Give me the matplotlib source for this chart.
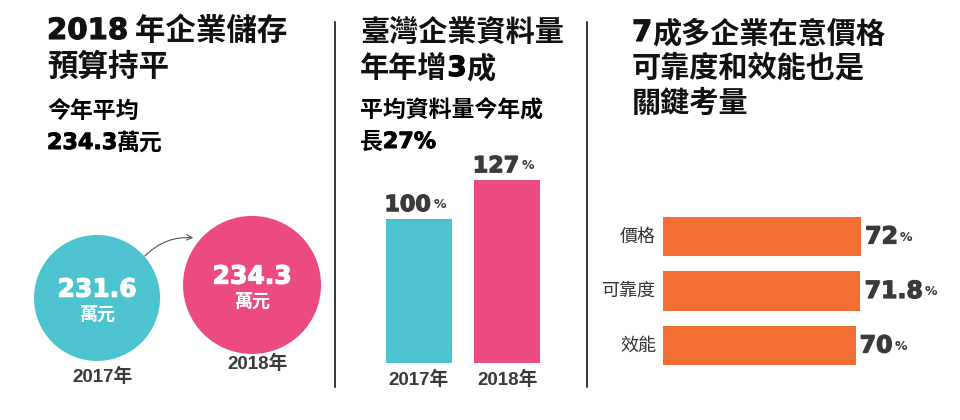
import matplotlib
matplotlib.use("Agg")
import matplotlib.pyplot as plt
from matplotlib import patheffects as pe

plt.rcParams["font.family"] = ["Noto Sans CJK TC", "DejaVu Sans"]

# --- data -------------------------------------------------------------
years = ["2017年", "2018年"]
budget = [231.6, 234.3]                 # 萬元
budget_labels = ["231.6", "234.3"]
data_growth = [100, 127]                # %
growth_labels = ["100", "127"]
factors = ["價格", "可靠度", "效能"]
factor_pct = [72, 71.8, 70]
factor_labels = ["72", "71.8", "70"]

TEAL = "#4DC3CF"
PINK = "#EC4B7F"
ORANGE = "#F26F33"
DARK = "#3A3A3A"
NUM_FONT = ["DejaVu Sans", "Noto Sans CJK TC"]
YEAR_FONT = ["Liberation Sans", "Noto Sans CJK TC"]

W, H = 960, 420
fig = plt.figure(figsize=(W / 100, H / 100), dpi=100)


def fx(x):
    return x / W


def fy(y):
    return 1 - y / H


def heavy(color, lw=0.9):
    # fake a "black" weight by stroking the bold glyphs
    return [pe.withStroke(linewidth=lw, foreground=color)]


def axes_px(left, top, right, bottom):
    ax = fig.add_axes([fx(left), fy(bottom), (right - left) / W, (bottom - top) / H])
    ax.set_axis_off()
    return ax


def after(t, s, gap=1, **kw):
    # put text s right after text artist t, vertically centred on it
    kw.setdefault("va", "center")
    return fig.axes[0].annotate(s, xy=(1, 0.5), xycoords=t, xytext=(gap, 0),
                                textcoords="offset points", ha="left",
                                annotation_clip=False, **kw)


def add_pct(ax, t, size=9):
    # small "%" glued to the right of a number text, sitting on its baseline
    return ax.annotate("%", xy=(1, 0.2), xycoords=t, xytext=(1.5, 0),
                       textcoords="offset points", ha="left", va="bottom",
                       fontsize=size, fontweight="bold", color=DARK,
                       family=NUM_FONT)


# --- panel 1: bubbles ----------------------------------------------------
ax1 = axes_px(0, 200, 330, 400)
ax1.set_xlim(-0.626, 1.503)
ax1.set_ylim(210.4, 251.95)
ax1.scatter(range(len(budget)), budget, s=[8230, 9880], c=[TEAL, PINK],
            linewidths=0, zorder=2)
for i, v in enumerate(budget):
    ax1.annotate(budget_labels[i], xy=(i, v), xytext=(0, 6), textcoords="offset points",
                 ha="center", va="center", color="white", fontsize=18,
                 fontweight="bold", family=NUM_FONT, zorder=3,
                 path_effects=heavy("white"))
    ax1.annotate("萬元", xy=(i, v), xytext=(0, -12), textcoords="offset points",
                 ha="center", va="center", color="white", fontsize=13,
                 fontweight="bold", zorder=3)
    ax1.annotate(years[i], xy=(i, v), xytext=(4, -57), textcoords="offset points",
                 ha="center", va="center", color=DARK, fontsize=13.5,
                 fontweight="bold", family=YEAR_FONT)
ax1.annotate("", xy=(196, H - 238), xycoords="figure pixels",
             xytext=(143, H - 258), textcoords="figure pixels",
             arrowprops=dict(arrowstyle="->", color="#555555", lw=0.8,
                             connectionstyle="arc3,rad=-0.25"))

# --- titles ------------------------------------------------------------
title_kw = dict(fontsize=21, fontweight="bold", color="#111111", va="center")
t = fig.text(fx(47), fy(31), "2018", family=NUM_FONT,
             path_effects=heavy("#111111", 0.8), **{**title_kw, "fontsize": 21})
after(t, " 年企業儲存", gap=0, fontsize=22, fontweight="bold", color="#111111")
fig.text(fx(47), fy(67), "預算持平", **{**title_kw, "fontsize": 22})
fig.text(fx(47), fy(111), "今年平均", fontsize=16.5, fontweight="bold", va="center")
t = fig.text(fx(47), fy(143), "234.3", fontsize=16, fontweight="bold",
             family=NUM_FONT, va="center", path_effects=heavy("black", 0.7))
after(t, "萬元", gap=0, fontsize=16.5, fontweight="bold")

fig.text(fx(360), fy(33), "臺灣企業資料量", **title_kw)
t = fig.text(fx(360), fy(68), "年年增", **title_kw)
t = after(t, "3", gap=0, fontsize=20, fontweight="bold", family=NUM_FONT,
          path_effects=heavy("black", 0.8))
after(t, "成", gap=0, fontsize=21, fontweight="bold", color="#111111")
fig.text(fx(360), fy(110), "平均資料量今年成", fontsize=16.5, fontweight="bold",
         va="center")
t = fig.text(fx(360), fy(142), "長", fontsize=16.5, fontweight="bold", va="center")
after(t, "27%", gap=0, fontsize=16, fontweight="bold", family=NUM_FONT,
      path_effects=heavy("black", 0.7))

t = fig.text(fx(632), fy(33), "7", family=NUM_FONT,
             path_effects=heavy("#111111", 0.8), **title_kw)
after(t, "成多企業在意價格", gap=0, fontsize=21, fontweight="bold", color="#111111")
fig.text(fx(632), fy(68), "可靠度和效能也是", **title_kw)
fig.text(fx(632), fy(103), "關鍵考量", **title_kw)

# dividers
for xd in (335, 587):
    fig.add_artist(plt.Line2D([fx(xd), fx(xd)], [fy(22), fy(387)],
                              color="black", lw=1.1))

# --- panel 2: columns ----------------------------------------------------
ax2 = axes_px(366, 120, 560, 363)
ax2.set_xlim(-0.6, 1.6)
ax2.set_ylim(0, 168.75)
ax2.bar(range(len(data_growth)), data_growth, width=0.74, color=[TEAL, PINK])
for i, v in enumerate(data_growth):
    t = ax2.annotate(growth_labels[i], xy=(i, v), xytext=(-8, 10),
                     textcoords="offset points", ha="center", va="center",
                     fontsize=16, fontweight="bold", color=DARK, family=NUM_FONT,
                     path_effects=heavy(DARK))
    add_pct(ax2, t)
    ax2.annotate(years[i], xy=(i, 0), xytext=(0, -12), textcoords="offset points",
                 ha="center", va="center", fontsize=13.5, fontweight="bold",
                 color=DARK, family=YEAR_FONT)

# --- panel 3: horizontal bars ---------------------------------------------
ax3 = axes_px(663, 203.8, 960, 378.2)
ax3.set_xlim(0, 108)
ax3.set_ylim(2.6, -0.6)
ax3.barh(range(len(factor_pct)), factor_pct, height=0.73, color=ORANGE)
for i, v in enumerate(factor_pct):
    ax3.annotate(factors[i], xy=(0, i), xytext=(-5, 0), textcoords="offset points",
                 ha="right", va="center", fontsize=13, color="#333333")
    t = ax3.annotate(factor_labels[i], xy=(v, i), xytext=(3, 0),
                     textcoords="offset points", ha="left", va="center",
                     fontsize=17, fontweight="bold", color=DARK, family=NUM_FONT,
                     path_effects=heavy(DARK))
    add_pct(ax3, t)

fig.savefig("out.png", dpi=100, facecolor="white")
